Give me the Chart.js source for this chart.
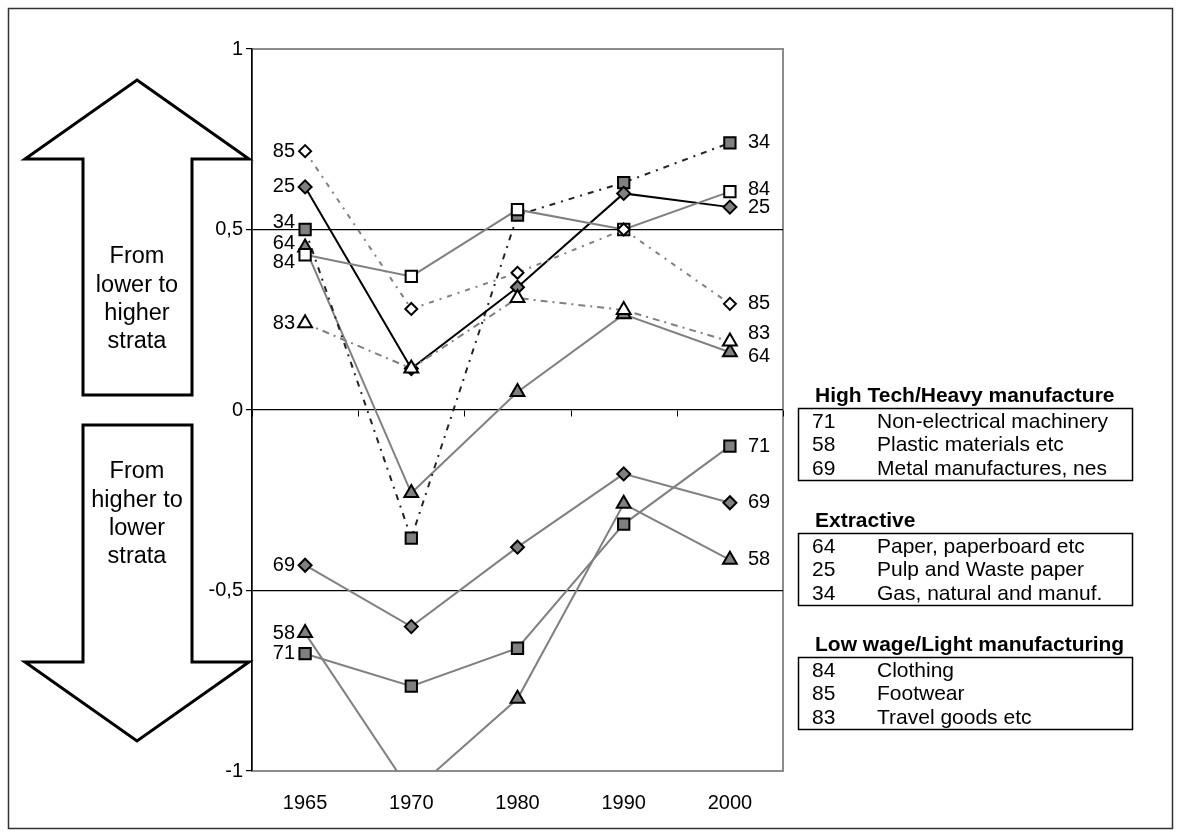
<!DOCTYPE html>
<html>
<head>
<meta charset="utf-8">
<script src="https://cdn.jsdelivr.net/npm/chart.js@4/dist/chart.umd.min.js"></script>
<style>
body { margin: 0; background: #fff; }
#wrap { width: 1181px; height: 837px; }
</style>
</head>
<body>
<div id="wrap"><canvas id="myChart" width="1181" height="837"></canvas></div>
<script>
// categories
const years = ['1965', '1970', '1980', '1990', '2000'];

// series values, one per SITC code
const s71 = [-0.675, -0.765, -0.66, -0.316, -0.10];
const s58 = [-0.618, -1.06, -0.80, -0.26, -0.415];
const s69 = [-0.43, -0.60, -0.38, -0.177, -0.257];
const s64 = [0.45, -0.23, 0.05, 0.265, 0.16];
const s25 = [0.618, 0.115, 0.34, 0.60, 0.562];
const s34 = [0.50, -0.355, 0.54, 0.63, 0.74];
const s84 = [0.43, 0.37, 0.555, 0.50, 0.605];
const s85 = [0.717, 0.28, 0.38, 0.50, 0.294];
const s83 = [0.24, 0.115, 0.31, 0.277, 0.19];

// y axis ticks
const yTicks = [-1, -0.5, 0, 0.5, 1];

// legend groups
const groupTitles = ['High Tech/Heavy manufacture', 'Extractive', 'Low wage/Light manufacturing'];
const groupCodes = [['71', '58', '69'], ['64', '25', '34'], ['84', '85', '83']];
const groupNames = [
  ['Non-electrical machinery', 'Plastic materials etc', 'Metal manufactures, nes'],
  ['Paper, paperboard etc', 'Pulp and Waste paper', 'Gas, natural and manuf.'],
  ['Clothing', 'Footwear', 'Travel goods etc']
];

const FONT = "Arial, 'Liberation Sans', sans-serif";
const GREY = '#808080';

function ds(code, values, shape, fill, lineColor, dash, radius) {
  return {
    label: code,
    data: values,
    borderColor: lineColor,
    borderWidth: 2,
    borderDash: dash,
    pointStyle: shape,
    pointRadius: radius,
    pointHoverRadius: radius,
    pointBackgroundColor: fill,
    pointBorderColor: '#000',
    pointBorderWidth: 2,
    tension: 0,
    fill: false,
    clip: 0
  };
}

// first dataset is drawn on top
const datasets = [
  ds('83', s83, 'triangle', '#fff', GREY, [7, 5, 2, 5], 8),
  ds('85', s85, 'rectRot', '#fff', GREY, [5, 6, 2, 6], 6),
  ds('84', s84, 'rect', '#fff', GREY, [], 8),
  ds('25', s25, 'rectRot', GREY, '#000', [], 6.5),
  ds('34', s34, 'rect', GREY, '#222', [6, 6, 2, 6], 8),
  ds('64', s64, 'triangle', GREY, GREY, [], 8),
  ds('69', s69, 'rectRot', GREY, GREY, [], 6.5),
  ds('71', s71, 'rect', GREY, GREY, [], 8),
  ds('58', s58, 'triangle', GREY, GREY, [], 8)
];

// small vertical nudges so end labels do not collide
const firstNudge = { '34': -7, '64': -4, '84': 8 };
const lastNudge = { '84': -2, '83': -8, '64': 4 };

function arrow(ctx, pts) {
  ctx.beginPath();
  ctx.moveTo(pts[0][0], pts[0][1]);
  for (let i = 1; i < pts.length; i++) ctx.lineTo(pts[i][0], pts[i][1]);
  ctx.closePath();
  ctx.fillStyle = '#fff';
  ctx.fill();
  ctx.stroke();
}

const decor = {
  id: 'decor',
  beforeDraw(chart) {
    const ctx = chart.ctx;
    const a = chart.chartArea;
    ctx.save();
    ctx.fillStyle = '#fff';
    ctx.fillRect(0, 0, chart.width, chart.height);
    ctx.strokeStyle = '#333';
    ctx.lineWidth = 1.5;
    ctx.strokeRect(8.5, 8.5, 1164, 820);
    ctx.strokeStyle = '#8c8c8c';
    ctx.lineWidth = 2;
    ctx.strokeRect(a.left, a.top, a.right - a.left, a.bottom - a.top);
    ctx.restore();
  },
  afterDatasetsDraw(chart) {
    const ctx = chart.ctx;
    const x = chart.scales.x;
    const y = chart.scales.y;
    ctx.save();
    // x tick marks on the zero line
    const step = x.getPixelForValue(1) - x.getPixelForValue(0);
    const y0 = Math.round(y.getPixelForValue(0)) + 0.5;
    ctx.strokeStyle = '#000';
    ctx.lineWidth = 1;
    for (let i = 0; i <= years.length; i++) {
      const px = Math.round(x.getPixelForValue(0) - step / 2 + i * step) + 0.5;
      ctx.beginPath();
      ctx.moveTo(px, y0);
      ctx.lineTo(px, y0 + 6);
      ctx.stroke();
    }
    // end labels
    ctx.font = '20px ' + FONT;
    ctx.fillStyle = '#000';
    ctx.textBaseline = 'middle';
    chart.data.datasets.forEach((d, i) => {
      const pts = chart.getDatasetMeta(i).data;
      const p0 = pts[0];
      const p1 = pts[pts.length - 1];
      ctx.textAlign = 'right';
      ctx.fillText(d.label, p0.x - 10, p0.y + (firstNudge[d.label] || 0));
      ctx.textAlign = 'left';
      ctx.fillText(d.label, p1.x + 18, p1.y + (lastNudge[d.label] || 0));
    });
    ctx.restore();
  },
  afterDraw(chart) {
    const ctx = chart.ctx;
    ctx.save();
    // arrows
    ctx.strokeStyle = '#000';
    ctx.lineWidth = 3;
    ctx.lineJoin = 'miter';
    arrow(ctx, [[137, 80], [249, 159], [192, 159], [192, 395], [83, 395], [83, 159], [25, 159]]);
    arrow(ctx, [[83, 425], [192, 425], [192, 662], [249, 662], [137, 741], [25, 662], [83, 662]]);
    ctx.fillStyle = '#000';
    ctx.font = '23.5px ' + FONT;
    ctx.textAlign = 'center';
    ctx.textBaseline = 'middle';
    ['From', 'lower to', 'higher', 'strata'].forEach((t, i) => ctx.fillText(t, 137, 257 + i * 28.3));
    ['From', 'higher to', 'lower', 'strata'].forEach((t, i) => ctx.fillText(t, 137, 472 + i * 28.3));

    // legend boxes
    const tops = [396, 521, 645];
    ctx.textAlign = 'left';
    ctx.lineWidth = 1.5;
    tops.forEach((t, g) => {
      ctx.font = 'bold 21px ' + FONT;
      ctx.fillText(groupTitles[g], 815, t);
      ctx.strokeRect(798.5, t + 12.5, 334, 72);
      ctx.font = '21px ' + FONT;
      groupCodes[g].forEach((c, r) => {
        ctx.fillText(c, 812, t + 26 + r * 23.5);
        ctx.fillText(groupNames[g][r], 877, t + 26 + r * 23.5);
      });
    });
    ctx.restore();
  }
};

const ctx = document.getElementById('myChart');
const myChart = new Chart(ctx, {
  type: 'line',
  data: { labels: years, datasets: datasets },
  options: {
    responsive: false,
    animation: false,
    events: [],
    layout: { padding: { left: 202, right: 398, top: 49, bottom: 16 } },
    plugins: { legend: { display: false }, tooltip: { enabled: false } },
    scales: {
      x: {
        offset: true,
        grid: { display: false, drawTicks: false },
        border: { display: false },
        ticks: { color: '#000', font: { family: FONT, size: 20 }, padding: 20 },
        afterFit: s => { s.height = 50; }
      },
      y: {
        min: yTicks[0],
        max: yTicks[yTicks.length - 1],
        afterBuildTicks: s => { s.ticks = yTicks.map(v => ({ value: v })); },
        border: { display: true, color: '#000', width: 1.5 },
        grid: {
          color: c => (c.tick && Math.abs(c.tick.value) < 1) ? '#000' : 'rgba(0,0,0,0)',
          lineWidth: 1.2,
          tickColor: '#000',
          tickLength: 6
        },
        ticks: {
          color: '#000',
          font: { family: FONT, size: 20 },
          padding: 3,
          callback: v => String(v).replace('.', ',')
        },
        afterFit: s => { s.width = 50; }
      }
    }
  },
  plugins: [decor]
});
</script>
</body>
</html>
